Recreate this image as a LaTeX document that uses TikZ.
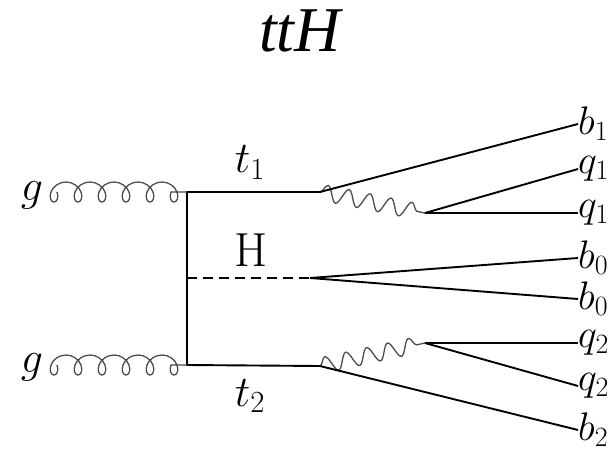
\RequirePackage{fix-cm}
\documentclass[tikz,border=0pt]{standalone}
\usepackage{fontspec}
\newfontfamily\titlefont{Liberation Serif}
\usetikzlibrary{decorations.pathmorphing}
\begin{document}
\begin{tikzpicture}[x=1bp,y=-1bp,
  fline/.style={line width=1.9bp, black},
  gluon/.style={draw=gray!60!black, line width=1.3bp, decorate,
    decoration={coil, amplitude=-10bp, segment length=24bp, aspect=0.9, post length=6bp}},
  wboson/.style={draw=gray!60!black, line width=1.3bp, decorate,
    decoration={snake, amplitude=8bp, segment length=21.4bp}},
  higgs/.style={line width=1.9bp, dash pattern=on 10bp off 6bp},
  lab/.style={inner sep=0pt, font=\fontsize{44}{50}\selectfont},
  rlab/.style={inner sep=0pt, anchor=west, font=\fontsize{40}{45}\selectfont},
]
\useasboundingbox (0,0) rectangle (613,462);
\clip (0,0) rectangle (613,462);
\fill[white] (0,0) rectangle (613,462);

\node[anchor=base, inner sep=0pt, font=\titlefont\itshape\fontsize{64}{70}\selectfont] (title) at (300,52) {ttH};

\coordinate (v1) at (187,192);
\coordinate (v2) at (187,365);
\coordinate (vh) at (187,278);
\coordinate (vt) at (320,192);
\coordinate (vb) at (320,366);
\coordinate (vH) at (310,278);
\coordinate (w1) at (425,213);
\coordinate (w2) at (425,343);
\coordinate (gs1) at (57,192);
\coordinate (gs2) at (57,365);

\node[lab, anchor=base] (g1) at (32,201) {$g$};
\node[lab, anchor=base] (g2) at (32,372) {$g$};
\node[lab, anchor=base] (t1) at (250,173) {$t_1$};
\node[lab, anchor=base] (t2) at (250,406) {$t_2$};
\node[lab, anchor=base, font=\fontsize{48}{52}\selectfont] (H) at (251,267) {H};

\node[rlab] (b1) at (578,124) {$b_1$};
\node[rlab] (q1a) at (578,169) {$q_1$};
\node[rlab] (q1b) at (578,213) {$q_1$};
\node[rlab] (b0a) at (578,258) {$b_0$};
\node[rlab] (b0b) at (578,299) {$b_0$};
\node[rlab] (q2a) at (578,343) {$q_2$};
\node[rlab] (q2b) at (578,386) {$q_2$};
\node[rlab] (b2) at (578,430) {$b_2$};

\draw[fline, line join=miter] (vt) -- (v1) -- (v2) -- (vb);
\draw[higgs] (vh) -- (vH);
\draw[gluon] (gs1) -- (v1);
\draw[gluon] (gs2) -- (v2);
\draw[wboson] (vt) -- (w1);
\draw[wboson] (vb) -- (w2);

\draw[fline] (vt) -- (b1.west);
\draw[fline] (w1) -- (q1a.west);
\draw[fline] (w1) -- (q1b.west);
\draw[fline] (vH) -- (b0a.west);
\draw[fline] (vH) -- (b0b.west);
\draw[fline] (w2) -- (q2a.west);
\draw[fline] (w2) -- (q2b.west);
\draw[fline] (vb) -- (b2.west);
\end{tikzpicture}
\end{document}
